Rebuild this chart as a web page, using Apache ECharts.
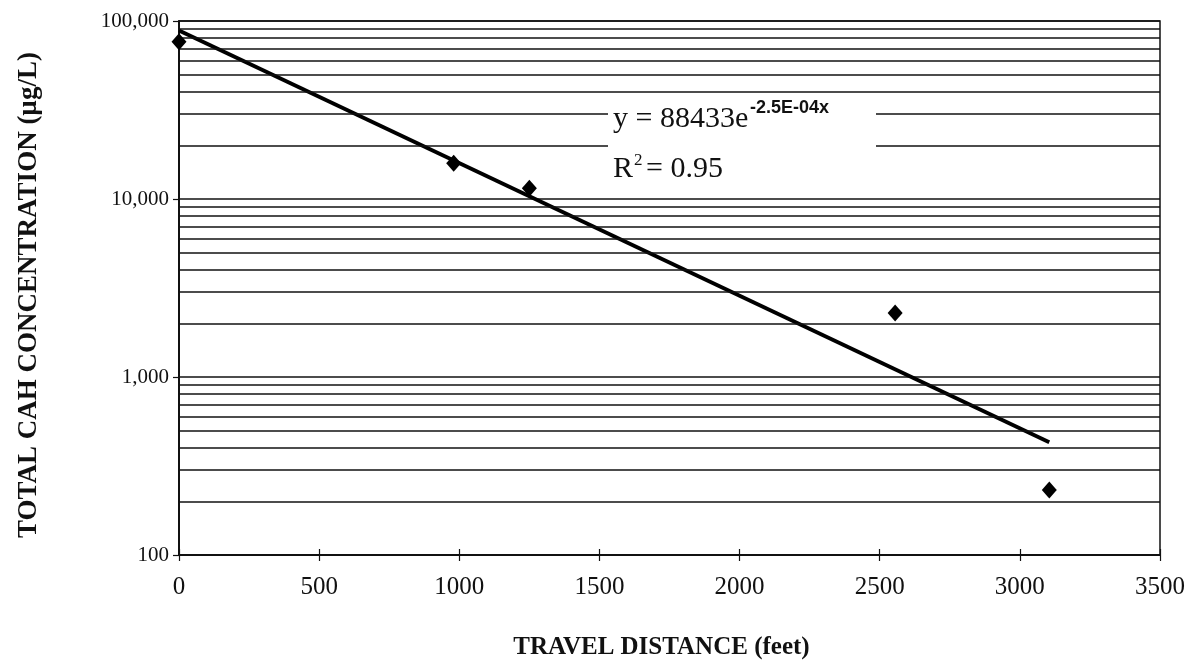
<!DOCTYPE html>
<html><head><meta charset="utf-8">
<script src="https://cdn.jsdelivr.net/npm/echarts@6/dist/echarts.min.js"></script>
<style>html,body{margin:0;padding:0;background:#fff}#c{width:1192px;height:664px}</style>
</head><body><div id="c"></div>
<script>
// Data
const distances = [0, 980, 1250, 2555, 3105];          // feet
const concentrations = [76500, 15900, 11500, 2290, 232]; // µg/L
const trendX = [0, 3105];
const trendY = [88433, 430];
const xTicks = {min: 0, max: 3500, interval: 500};
const yMajor = [100, 1000, 10000, 100000];
const yMinorGrid = [200,300,400,500,600,700,800,900,2000,3000,4000,5000,6000,7000,8000,9000,20000,30000,40000,50000,60000,70000,80000,90000];
const xTitle = 'TRAVEL DISTANCE (feet)';
const yTitle = 'TOTAL CAH CONCENTRATION (\u00b5g/L)';

const serif = '"Liberation Serif", "Times New Roman", serif';
const chart = echarts.init(document.getElementById('c'));
const ink = '#111';
chart.setOption({
  animation: false,
  backgroundColor: '#fff',
  grid: {left: 179, right: 32, top: 21, bottom: 109, outerBoundsMode: 'none', containLabel: false,
    show: true, borderColor: ink, borderWidth: 1.5, backgroundColor: 'transparent'},
  xAxis: [{
    type: 'value', min: xTicks.min, max: xTicks.max, interval: xTicks.interval,
    axisLine: {lineStyle: {color: ink, width: 2}},
    axisTick: {show: true, inside: false, length: 6, lineStyle: {color: ink, width: 1.2}},
    axisLabel: {color: ink, fontFamily: serif, fontSize: 25, margin: 20, formatter: v => String(v)},
    splitLine: {show: false},
    name: xTitle, nameLocation: 'middle', nameGap: 80,
    nameTextStyle: {color: ink, fontFamily: serif, fontWeight: 'bold', fontSize: 25, padding: [0, 16, 0, 0]}
  }, {
    type: 'value', min: xTicks.min, max: xTicks.max, interval: xTicks.interval, position: 'bottom',
    axisLine: {show: false}, axisLabel: {show: false}, splitLine: {show: false},
    axisTick: {show: true, inside: true, length: 6, lineStyle: {color: ink, width: 1.2}}
  }],
  yAxis: {
    type: 'log', logBase: 10, min: yMajor[0], max: yMajor[yMajor.length - 1],
    axisLine: {show: true, lineStyle: {color: ink, width: 2}},
    axisTick: {show: true, inside: false, length: 6, lineStyle: {color: ink, width: 1.2}},
    axisLabel: {color: ink, fontFamily: serif, fontSize: 21, margin: 10,
      formatter: v => Number(v).toLocaleString('en-US')},
    splitLine: {show: true, lineStyle: {color: ink, width: 1.5}},
    name: yTitle, nameLocation: 'middle', nameGap: 136,
    nameTextStyle: {color: ink, fontFamily: serif, fontWeight: 'bold', fontSize: 27, padding: [0, 14, 0, 0]}
  },
  series: [
    {
      type: 'line', name: 'grid', data: [], silent: true,
      markLine: {
        silent: true, symbol: 'none', label: {show: false},
        lineStyle: {color: ink, width: 1.5, type: 'solid'},
        data: yMinorGrid.map(v => ({yAxis: v}))
      }
    },
    {
      type: 'line', name: 'trend', data: trendX.map((x, i) => [x, trendY[i]]),
      showSymbol: false, symbol: 'none', lineStyle: {color: '#000', width: 4}, z: 4
    },
    {
      type: 'scatter', name: 'data', data: distances.map((x, i) => [x, concentrations[i]]),
      symbol: 'diamond', symbolSize: [15, 17], itemStyle: {color: '#000', opacity: 1}, z: 5
    }
  ],
  graphic: [
    {type: 'rect', z: 10, shape: {x: 608, y: 95, width: 268, height: 98}, style: {fill: '#fff'}},
    {type: 'text', z: 11, left: 613, top: 104, style: {text: 'y = 88433e', font: '30px ' + serif, fill: ink}},
    {type: 'text', z: 11, left: 750, top: 99, style: {text: '-2.5E-04x', font: 'bold 18px "Liberation Sans", Arial, sans-serif', fill: ink}},
    {type: 'text', z: 11, left: 613, top: 154, style: {text: 'R', font: '30px ' + serif, fill: ink}},
    {type: 'text', z: 11, left: 634, top: 152, style: {text: '2', font: '17px ' + serif, fill: ink}},
    {type: 'text', z: 11, left: 646, top: 154, style: {text: '= 0.95', font: '30px ' + serif, fill: ink}}
  ]
});
</script></body></html>
